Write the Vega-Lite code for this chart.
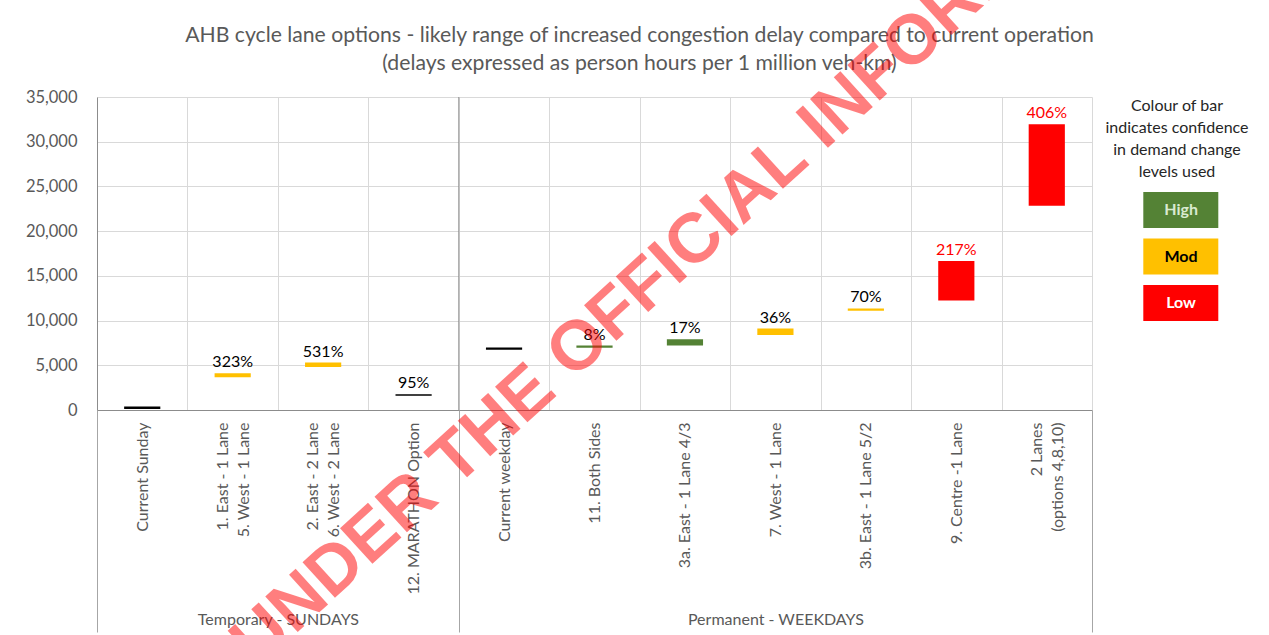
{
  "$schema": "https://vega.github.io/schema/vega-lite/v6.json",
  "width": 995,
  "height": 313,
  "autosize": {"type": "none"},
  "padding": {"left": 97, "top": 97, "right": 177, "bottom": 225},
  "background": "white",
  "config": {"font": "Lato", "view": {"stroke": null}},
  "data": {
    "values": [
      {"option": "Current Sunday", "group": "Temporary - SUNDAYS", "conf": "Base", "low": 100, "high": 400, "pct": null},
      {"option": "1. East - 1 Lane|5. West - 1 Lane", "group": "Temporary - SUNDAYS", "conf": "Mod", "low": 3650, "high": 4100, "pct": "323%"},
      {"option": "2. East - 2 Lane|6. West - 2 Lane", "group": "Temporary - SUNDAYS", "conf": "Mod", "low": 4800, "high": 5300, "pct": "531%"},
      {"option": "12. MARATHON Option", "group": "Temporary - SUNDAYS", "conf": "Base", "low": 1600, "high": 1750, "pct": "95%"},
      {"option": "Current weekday", "group": "Permanent - WEEKDAYS", "conf": "Base", "low": 6750, "high": 7000, "pct": null},
      {"option": "11. Both Sides", "group": "Permanent - WEEKDAYS", "conf": "High", "low": 6950, "high": 7200, "pct": "8%"},
      {"option": "3a. East - 1 Lane 4/3", "group": "Permanent - WEEKDAYS", "conf": "High", "low": 7200, "high": 7900, "pct": "17%"},
      {"option": "7. West - 1 Lane", "group": "Permanent - WEEKDAYS", "conf": "Mod", "low": 8400, "high": 9100, "pct": "36%"},
      {"option": "3b. East - 1 Lane 5/2", "group": "Permanent - WEEKDAYS", "conf": "Mod", "low": 11100, "high": 11350, "pct": "70%"},
      {"option": "9. Centre -1 Lane", "group": "Permanent - WEEKDAYS", "conf": "Low", "low": 12250, "high": 16650, "pct": "217%"},
      {"option": "2 Lanes|(options 4,8,10)", "group": "Permanent - WEEKDAYS", "conf": "Low", "low": 22850, "high": 31950, "pct": "406%"}
    ]
  },
  "layer": [
    {
      "layer": [
        {
          "mark": {"type": "bar", "width": {"band": 0.4}},
          "encoding": {
            "x": {
              "field": "option",
              "type": "nominal",
              "sort": null,
              "scale": {"paddingInner": 0, "paddingOuter": 0},
              "axis": {
                "title": null,
                "labelAngle": -90,
                "labelAlign": "right",
                "labelBaseline": "middle",
                "labelExpr": "split(datum.label, '|')",
                "labelFontSize": 16,
                "labelColor": "#595959",
                "labelLineHeight": 21,
                "labelPadding": 12,
                "labelLimit": 300,
                "labelOverlap": false,
                "labelOffset": {"condition": {"test": "datum && isString(datum.value) && indexof(datum.value, '|') >= 0", "value": -10.5}, "value": 0},
                "ticks": false,
                "tickBand": "extent",
                "grid": true,
                "gridColor": "#D9D9D9",
                "domainColor": "#8C8C8C"
              }
            },
            "y": {
              "field": "low",
              "type": "quantitative",
              "scale": {"domain": [0, 35000], "nice": false},
              "axis": {
                "title": null,
                "values": [0, 5000, 10000, 15000, 20000, 25000, 30000, 35000],
                "format": ",.0f",
                "labelFontSize": 16.5,
                "labelColor": "#595959",
                "labelPadding": 20,
                "ticks": false,
                "domain": true,
                "domainColor": "#8C8C8C",
                "gridColor": "#D9D9D9"
              }
            },
            "y2": {"field": "high"},
            "color": {
              "field": "conf",
              "type": "nominal",
              "scale": {"domain": ["High", "Mod", "Low", "Base"], "range": ["#548235", "#FFC000", "#FF0000", "#000000"]},
              "legend": {
                "title": ["Colour of bar", "indicates confidence", "in demand change", "levels used"],
                "values": ["High", "Mod", "Low"],
                "orient": "none",
                "legendX": 1008,
                "legendY": 1,
                "padding": 0,
                "titleFontSize": 16,
                "titleFontWeight": "normal",
                "titleColor": "#262626",
                "titleAlign": "center",
                "titleAnchor": "middle",
                "titleLineHeight": 22,
                "titlePadding": 11,
                "symbolType": "M-2,-0.96H2V0.96H-2Z",
                "symbolSize": 1406.25,
                "symbolStrokeWidth": 0,
                "symbolOpacity": 1,
                "symbolOffset": 26.8,
                "labelAlign": "center",
                "labelOffset": -18.75,
                "labelFontSize": 16,
                "labelFontWeight": "bold",
                "rowPadding": 9.5,
                "encode": {
                  "labels": {
                    "update": {
                      "fill": {"signal": "datum.label === 'Mod' ? '#000000' : datum.label === 'High' ? '#D9EAD0' : '#FFFFFF'"}
                    }
                  }
                }
              }
            }
          }
        },
        {
          "transform": [{"filter": "datum.pct != null"}],
          "mark": {"type": "text", "baseline": "alphabetic", "dy": -6, "fontSize": 16},
          "encoding": {
            "x": {"field": "option", "type": "nominal", "sort": null},
            "y": {"field": "high", "type": "quantitative"},
            "text": {"field": "pct"},
            "color": {"condition": {"test": "datum.conf === 'Low'", "value": "#FF0000"}, "value": "#000000"}
          }
        }
      ]
    },
    {
      "data": {"values": [{"boundary": 4}]},
      "mark": {"type": "rule", "color": "#8C8C8C", "strokeWidth": 1},
      "encoding": {
        "x": {
          "field": "boundary",
          "type": "quantitative",
          "scale": {"domain": [0, 11], "nice": false, "zero": false},
          "axis": {
            "orient": "bottom",
            "title": null,
            "values": [0, 2, 4, 7.5, 11],
            "labelExpr": "datum.value == 2 ? 'Temporary - SUNDAYS' : datum.value == 7.5 ? 'Permanent - WEEKDAYS' : ''",
            "labelAngle": 0,
            "labelAlign": "center",
            "labelBaseline": "middle",
            "labelFontSize": 16,
            "labelColor": "#595959",
            "labelPadding": -13,
            "labelFlush": false,
            "labelOverlap": false,
            "domain": false,
            "grid": false,
            "ticks": true,
            "tickSize": 222,
            "tickColor": "#A6A6A6",
            "tickOpacity": {"condition": {"test": "datum.value == 2 || datum.value == 7.5", "value": 0}, "value": 1}
          }
        }
      }
    },
    {
      "data": {"values": [{"note": "UNDER THE OFFICIAL INFORMATION ACT"}]},
      "mark": {"type": "text", "font": "Liberation Sans", "fontSize": 70, "fontWeight": "bold", "angle": 317.6, "align": "center", "baseline": "middle", "fill": "#FF0000", "opacity": 0.5},
      "encoding": {
        "x": {
          "datum": 7.4,
          "type": "quantitative",
          "scale": {"domain": [0, 11], "nice": false, "zero": false},
          "axis": {
            "orient": "top",
            "title": ["AHB cycle lane options - likely range of increased congestion delay compared to current operation", "(delays expressed as person hours per 1 million veh-km)"],
            "titleFontSize": 21.2,
            "titleFontWeight": "normal",
            "titleColor": "#595959",
            "titleLineHeight": 28,
            "titleAlign": "center",
            "titleBaseline": "alphabetic",
            "titleX": 542,
            "titleY": -56,
            "titleLimit": 1200,
            "labels": false,
            "ticks": false,
            "domain": false,
            "grid": false
          }
        },
        "y": {"datum": 26200, "type": "quantitative"},
        "text": {"field": "note"}
      }
    }
  ],
  "resolve": {"scale": {"x": "independent"}, "axis": {"x": "independent"}}
}
